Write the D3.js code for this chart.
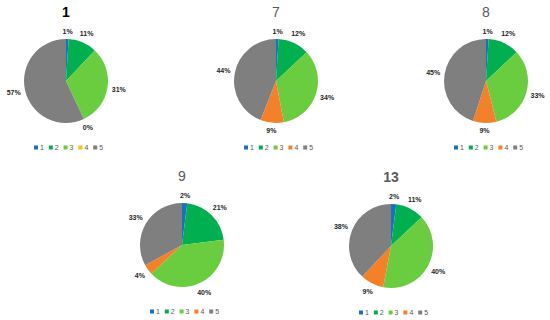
<!DOCTYPE html>
<html>
<head>
<meta charset="utf-8">
<script src="https://cdn.jsdelivr.net/npm/d3@7"></script>
<style>
  body { margin: 0; background: #fff; }
  svg { display: block; }
</style>
</head>
<body>
<div class="chart"></div>
<script>
// data
var titles = ["1", "7", "8", "9", "13"];
var categories = ["1", "2", "3", "4", "5"];
var values1 = [1, 11, 31, 0, 57];
var values7 = [1, 12, 34, 9, 44];
var values8 = [1, 12, 33, 9, 45];
var values9 = [2, 21, 40, 4, 33];
var values13 = [2, 11, 40, 9, 38];
var allValues = [values1, values7, values8, values9, values13];

var width = 550, height = 320;
var radius = 42;

// layout / style for each small pie
var panels = [
    { cx: 66,  cy: 81,  titleY: 17,  titleColor: "#000", titleWeight: "bold", colors: ["#1a6fc4", "#00b050", "#6acd3f", "#ffc000", "#7f7f7f"] },
    { cx: 276, cy: 81,  titleY: 17,  titleColor: "#595959", titleWeight: "normal", colors: ["#1a6fc4", "#00b050", "#6acd3f", "#f5802a", "#7f7f7f"] },
    { cx: 486, cy: 81,  titleY: 17,  titleColor: "#595959", titleWeight: "normal", colors: ["#1a6fc4", "#00b050", "#6acd3f", "#f5802a", "#7f7f7f"] },
    { cx: 182, cy: 245, titleY: 181, titleColor: "#595959", titleWeight: "normal", colors: ["#1a6fc4", "#00b050", "#6acd3f", "#f5802a", "#7f7f7f"] },
    { cx: 391, cy: 246, titleY: 182, titleColor: "#595959", titleWeight: "bold", colors: ["#1a6fc4", "#00b050", "#6acd3f", "#f5802a", "#7f7f7f"] }
];

var svg = d3.select(".chart").append("svg")
    .attr("width", width)
    .attr("height", height);

var pie = d3.pie().sort(null).value(function (d) { return d; });
var arc = d3.arc().innerRadius(0).outerRadius(radius);

panels.forEach(function (p, k) {
    var data = allValues[k];
    var color = d3.scaleOrdinal().domain(categories).range(p.colors);
    var g = svg.append("g").attr("transform", "translate(" + p.cx + "," + p.cy + ")");

    svg.append("text")
        .attr("x", p.cx)
        .attr("y", p.titleY)
        .attr("text-anchor", "middle")
        .style("font-family", "Liberation Sans, Arial, sans-serif")
        .style("font-size", "14px")
        .style("font-weight", p.titleWeight)
        .style("fill", p.titleColor)
        .text(titles[k]);

    var arcs = pie(data);

    g.selectAll(".slice")
        .data(arcs)
        .enter().append("path")
        .attr("class", "slice")
        .attr("d", arc)
        .style("fill", function (d, i) { return color(categories[i]); });

    // labels outside the edge, like excel "outside end"
    g.selectAll(".lbl")
        .data(arcs)
        .enter().append("text")
        .attr("class", "lbl")
        .attr("text-anchor", "middle")
        .attr("dominant-baseline", "central")
        .style("font-family", "Liberation Sans, Arial, sans-serif")
        .style("font-size", "7px")
        .style("font-weight", "bold")
        .style("fill", "#262626")
        .text(function (d) { return d.data + "%"; })
        .each(function (d) {
            var w = this.getComputedTextLength();
            var a = (d.startAngle + d.endAngle) / 2;
            var s = Math.sin(a), c = Math.cos(a);
            var off = radius + 4 + Math.abs(s) * w / 2 + Math.abs(c) * 3.5;
            d3.select(this)
                .attr("x", s * off)
                .attr("y", -c * off);
        });

    // legend
    var leg = svg.append("g")
        .attr("transform", "translate(" + (p.cx - 32) + "," + (p.cy + 66.5) + ")");
    var item = leg.selectAll(".item")
        .data(categories)
        .enter().append("g")
        .attr("class", "item")
        .attr("transform", function (d, i) { return "translate(" + (i * 14.8) + ",0)"; });
    item.append("rect")
        .attr("x", 0)
        .attr("y", -2)
        .attr("width", 4)
        .attr("height", 4)
        .style("fill", function (d) { return color(d); });
    item.append("text")
        .attr("x", 6)
        .attr("y", 0)
        .attr("dominant-baseline", "central")
        .style("font-family", "Liberation Sans, Arial, sans-serif")
        .style("font-size", "7px")
        .style("fill", "#595959")
        .text(function (d) { return d; });
});
</script>
</body>
</html>
